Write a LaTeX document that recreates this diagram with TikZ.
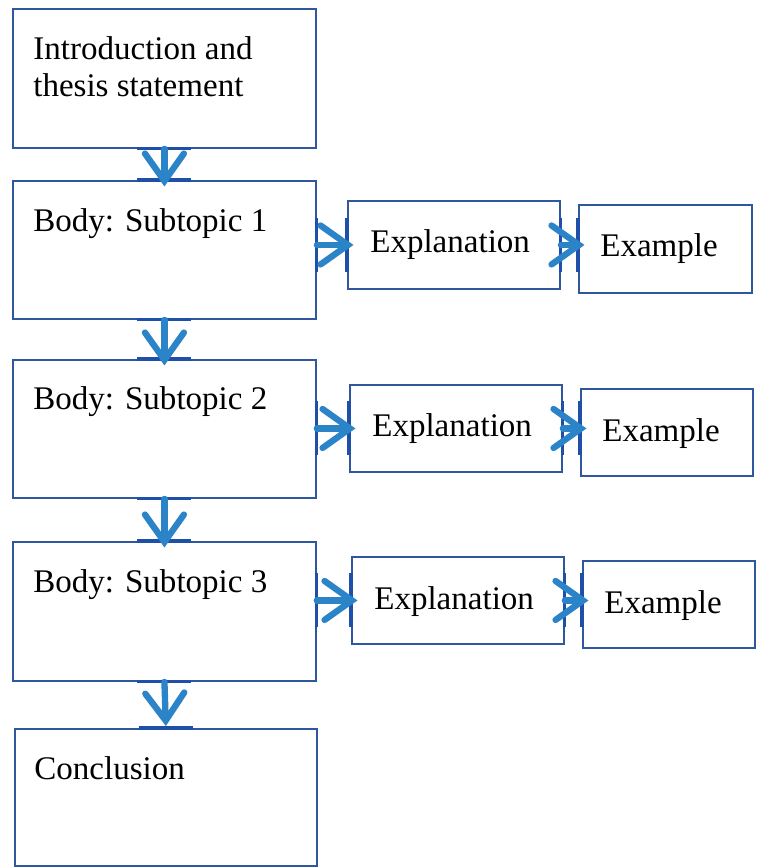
\documentclass[tikz,border=0pt]{standalone}
\usepackage{fontspec}
\setmainfont{Liberation Serif}
\usetikzlibrary{arrows.meta}

\definecolor{boxblue}{RGB}{47,87,160}
\definecolor{markblue}{RGB}{30,80,170}
\definecolor{arrowblue}{RGB}{44,132,200}

\tikzset{
    block/.style={draw=boxblue, line width=1.1pt, anchor=north west, inner sep=0pt},
    txt/.style={anchor=base west, inner sep=0pt, align=left, font=\fontsize{18.8}{21.5}\selectfont},
    flow/.style={arrowblue, line width=3.6pt, line cap=round,
        -{Straight Barb[length=0.55cm, width=0.78cm, line cap=round]}, shorten >=-0.13cm},
    edgemark/.style={markblue, line width=1.8pt}
}

\begin{document}
\begin{tikzpicture}[x=0.02cm, y=-0.02cm]
    \useasboundingbox (0,0) rectangle (757,867);

    % left column
    \node[block, minimum width=6.06cm, minimum height=2.78cm] (intro) at (12,8) {};
    \node[txt] (introtxt) at ([shift={(0.42cm,-1.78cm)}]intro.north west) {Introduction and\\thesis statement};

    \node[block, minimum width=6.06cm, minimum height=2.76cm] (sub1) at (12,180) {};
    \node[txt] (sub1txt) at ([shift={(0.42cm,-1.02cm)}]sub1.north west) {Body: Subtopic 1};

    \node[block, minimum width=6.06cm, minimum height=2.76cm] (sub2) at (12,359) {};
    \node[txt] (sub2txt) at ([shift={(0.42cm,-1.02cm)}]sub2.north west) {Body: Subtopic 2};

    \node[block, minimum width=6.06cm, minimum height=2.78cm] (sub3) at (12,541) {};
    \node[txt] (sub3txt) at ([shift={(0.42cm,-1.02cm)}]sub3.north west) {Body: Subtopic 3};

    \node[block, minimum width=6.04cm, minimum height=2.74cm] (concl) at (14,728) {};
    \node[txt] (concltxt) at ([shift={(0.4cm,-1.02cm)}]concl.north west) {Conclusion};

    % explanations
    \node[block, minimum width=4.24cm, minimum height=1.76cm] (exp1) at (347,200) {};
    \node[txt] (exp1txt) at ([shift={(0.46cm,-1.06cm)}]exp1.north west) {Explanation};
    \node[block, minimum width=4.24cm, minimum height=1.74cm] (exp2) at (349,384) {};
    \node[txt] (exp2txt) at ([shift={(0.46cm,-1.06cm)}]exp2.north west) {Explanation};
    \node[block, minimum width=4.24cm, minimum height=1.74cm] (exp3) at (351,556) {};
    \node[txt] (exp3txt) at ([shift={(0.46cm,-1.06cm)}]exp3.north west) {Explanation};

    % examples
    \node[block, minimum width=3.46cm, minimum height=1.76cm] (ex1) at (578,204) {};
    \node[txt] (ex1txt) at ([shift={(0.44cm,-1.06cm)}]ex1.north west) {Example};
    \node[block, minimum width=3.44cm, minimum height=1.74cm] (ex2) at (580,388) {};
    \node[txt] (ex2txt) at ([shift={(0.44cm,-1.06cm)}]ex2.north west) {Example};
    \node[block, minimum width=3.44cm, minimum height=1.74cm] (ex3) at (582,560) {};
    \node[txt] (ex3txt) at ([shift={(0.44cm,-1.06cm)}]ex3.north west) {Example};

    % marks on the edges
    \foreach \a/\b in {intro/sub1, sub1/sub2, sub2/sub3, sub3/concl} {
        \draw[edgemark] ([xshift=-0.54cm]\a.south) -- ([xshift=0.54cm]\a.south);
        \draw[edgemark] ([xshift=-0.54cm]\b.north) -- ([xshift=0.54cm]\b.north);
    }
    \foreach \s/\e/\x in {sub1/exp1/ex1, sub2/exp2/ex2, sub3/exp3/ex3} {
        \draw[edgemark] ([yshift=-0.54cm]\s.east |- \e.west) -- ([yshift=0.54cm]\s.east |- \e.west);
        \draw[edgemark] ([yshift=-0.54cm]\e.west) -- ([yshift=0.54cm]\e.west);
        \draw[edgemark] ([yshift=-0.54cm]\e.east) -- ([yshift=0.54cm]\e.east);
        \draw[edgemark] ([yshift=-0.54cm]\x.west |- \e.east) -- ([yshift=0.54cm]\x.west |- \e.east);
    }

    % arrows
    \draw[flow] (intro.south) -- (sub1.north);
    \draw[flow] (sub1.south) -- (sub2.north);
    \draw[flow] (sub2.south) -- (sub3.north);
    \draw[flow, shorten >=0.04cm] (sub3.south) -- (concl.north);

    \draw[flow] (sub1.east |- exp1.west) -- (exp1.west);
    \draw[flow] (exp1.east) -- (ex1.west |- exp1.east);
    \draw[flow] (sub2.east |- exp2.west) -- (exp2.west);
    \draw[flow] (exp2.east) -- (ex2.west |- exp2.east);
    \draw[flow] (sub3.east |- exp3.west) -- (exp3.west);
    \draw[flow] (exp3.east) -- (ex3.west |- exp3.east);

\end{tikzpicture}
\end{document}
